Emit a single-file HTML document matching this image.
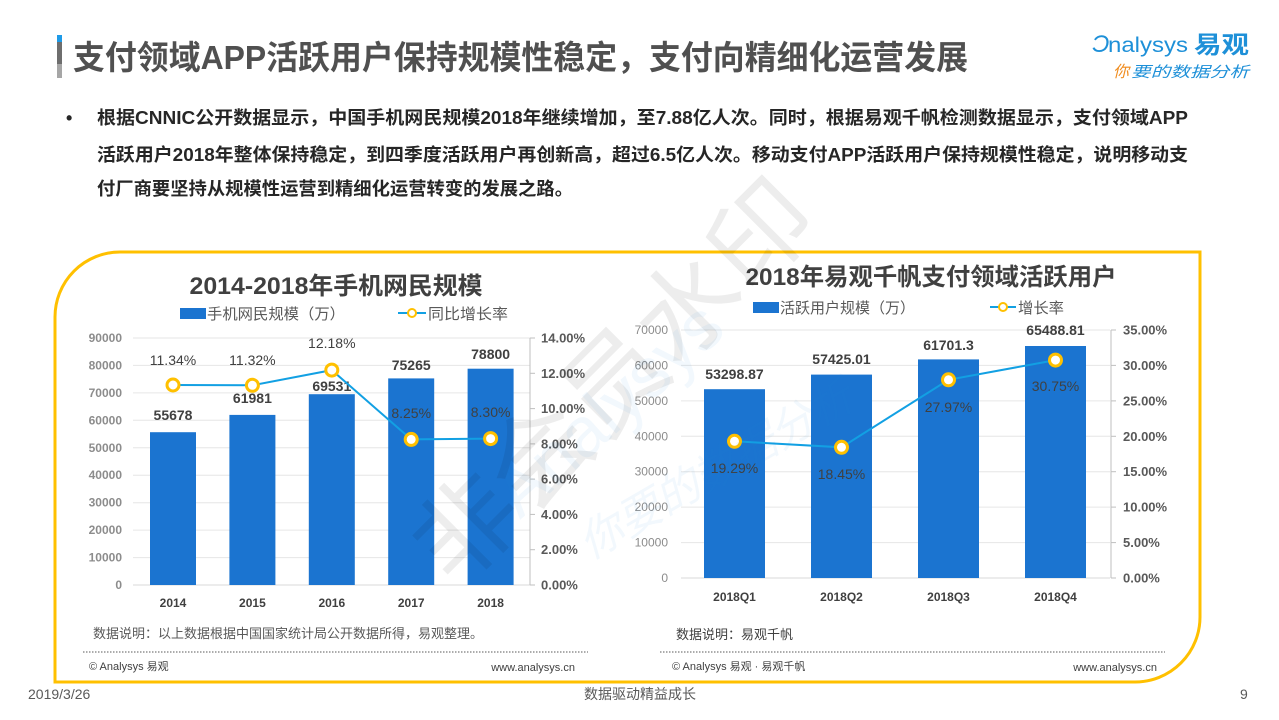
<!DOCTYPE html>
<html><head><meta charset="utf-8">
<style>
html,body{margin:0;padding:0;background:#fff;}
svg{display:block;}
text{font-family:"Liberation Sans","Noto Sans CJK SC",sans-serif;}
</style></head>
<body>
<svg width="1279" height="720" viewBox="0 0 1279 720" xmlns="http://www.w3.org/2000/svg">
<rect width="1279" height="720" fill="#fff"/>

<!-- Title -->
<rect x="57" y="35" width="5" height="7" fill="#1E9BE8"/>
<rect x="57" y="42" width="5" height="22" fill="#6e6e6e"/>
<rect x="57" y="64" width="5" height="14" fill="#a6a6a6"/>
<text x="73" y="69" font-size="33" font-weight="bold" fill="#505050" textLength="895" lengthAdjust="spacingAndGlyphs">支付领域APP活跃用户保持规模性稳定，支付向精细化运营发展</text>

<!-- Logo -->
<text x="1092" y="52" font-size="24" fill="#1E90D8" font-style="italic">&#x0186;</text>
<text x="1108" y="52" font-size="21" fill="#1E90D8" textLength="80" lengthAdjust="spacingAndGlyphs">nalysys</text>
<text x="1194" y="53" font-size="24" font-weight="bold" fill="#1E90D8" textLength="55" lengthAdjust="spacingAndGlyphs">易观</text>
<text x="1113" y="77" font-size="16" font-style="italic" fill="#F08C1E">你</text>
<text x="1131" y="77" font-size="15" font-style="italic" fill="#1E90D8" textLength="118" lengthAdjust="spacingAndGlyphs">要的数据分析</text>

<!-- Bullet text -->
<text x="66" y="124" font-size="18" font-weight="bold" fill="#262626">•</text>
<text x="97" y="124" font-size="18" font-weight="bold" fill="#262626" textLength="1091" lengthAdjust="spacingAndGlyphs">根据CNNIC公开数据显示，中国手机网民规模2018年继续增加，至7.88亿人次。同时，根据易观千帆检测数据显示，支付领域APP</text>
<text x="97" y="161" font-size="18" font-weight="bold" fill="#262626" textLength="1091" lengthAdjust="spacingAndGlyphs">活跃用户2018年整体保持稳定，到四季度活跃用户再创新高，超过6.5亿人次。移动支付APP活跃用户保持规模性稳定，说明移动支</text>
<text x="97" y="195" font-size="18" font-weight="bold" fill="#262626" textLength="476" lengthAdjust="spacingAndGlyphs">付厂商要坚持从规模性运营到精细化运营转变的发展之路。</text>

<!-- Yellow frame -->
<path d="M55,682 V317 A65,65 0 0 1 120,252 H1200 V617 A65,65 0 0 1 1135,682 Z" fill="none" stroke="#FFC000" stroke-width="3"/>

<!-- ================= LEFT CHART ================= -->
<text x="336" y="294" font-size="24" font-weight="bold" fill="#404040" text-anchor="middle" textLength="293" lengthAdjust="spacingAndGlyphs">2014-2018年手机网民规模</text>
<rect x="180" y="308" width="26" height="11" fill="#1B74D0"/>
<text x="207" y="319" font-size="15" fill="#595959" textLength="138" lengthAdjust="spacingAndGlyphs">手机网民规模（万）</text>
<line x1="398" y1="313" x2="426" y2="313" stroke="#12A0E3" stroke-width="2"/>
<circle cx="412" cy="313" r="4" fill="#fff" stroke="#FFC000" stroke-width="2"/>
<text x="428" y="319" font-size="15" fill="#595959" textLength="80" lengthAdjust="spacingAndGlyphs">同比增长率</text>

<g stroke="#E6E6E6" stroke-width="1">
<line x1="133" y1="338" x2="530" y2="338"/>
<line x1="133" y1="365.4" x2="530" y2="365.4"/>
<line x1="133" y1="392.9" x2="530" y2="392.9"/>
<line x1="133" y1="420.3" x2="530" y2="420.3"/>
<line x1="133" y1="447.8" x2="530" y2="447.8"/>
<line x1="133" y1="475.2" x2="530" y2="475.2"/>
<line x1="133" y1="502.7" x2="530" y2="502.7"/>
<line x1="133" y1="530.1" x2="530" y2="530.1"/>
<line x1="133" y1="557.6" x2="530" y2="557.6"/>
</g>
<line x1="133" y1="585" x2="530" y2="585" stroke="#D9D9D9" stroke-width="1"/>
<g font-size="12" font-weight="bold" fill="#8C8C8C" text-anchor="end">
<text x="122" y="342">90000</text>
<text x="122" y="369.4">80000</text>
<text x="122" y="396.9">70000</text>
<text x="122" y="424.3">60000</text>
<text x="122" y="451.8">50000</text>
<text x="122" y="479.2">40000</text>
<text x="122" y="506.7">30000</text>
<text x="122" y="534.1">20000</text>
<text x="122" y="561.6">10000</text>
<text x="122" y="589">0</text>
</g>
<g stroke="#BFBFBF" stroke-width="1">
<line x1="530" y1="338" x2="530" y2="585"/>
<line x1="530" y1="338" x2="535" y2="338"/>
<line x1="530" y1="373.3" x2="535" y2="373.3"/>
<line x1="530" y1="408.6" x2="535" y2="408.6"/>
<line x1="530" y1="443.9" x2="535" y2="443.9"/>
<line x1="530" y1="479.1" x2="535" y2="479.1"/>
<line x1="530" y1="514.4" x2="535" y2="514.4"/>
<line x1="530" y1="549.7" x2="535" y2="549.7"/>
<line x1="530" y1="585" x2="535" y2="585"/>
</g>
<g font-size="13" font-weight="bold" fill="#595959">
<text x="541" y="342.5">14.00%</text>
<text x="541" y="377.8">12.00%</text>
<text x="541" y="413.1">10.00%</text>
<text x="541" y="448.4">8.00%</text>
<text x="541" y="483.6">6.00%</text>
<text x="541" y="518.9">4.00%</text>
<text x="541" y="554.2">2.00%</text>
<text x="541" y="589.5">0.00%</text>
</g>
<g fill="#1B74D0">
<rect x="150" y="432.2" width="46" height="152.8"/>
<rect x="229.4" y="414.9" width="46" height="170.1"/>
<rect x="308.8" y="394.2" width="46" height="190.8"/>
<rect x="388.2" y="378.4" width="46" height="206.6"/>
<rect x="467.6" y="368.7" width="46" height="216.3"/>
</g>
<g font-size="14" font-weight="bold" fill="#404040" text-anchor="middle">
<text x="173" y="420">55678</text>
<text x="252.4" y="403">61981</text>
<text x="331.8" y="391">69531</text>
<text x="411.2" y="370">75265</text>
<text x="490.6" y="359">78800</text>
</g>
<polyline points="173,385 252.4,385.3 331.8,370.1 411.2,439.4 490.6,438.6" fill="none" stroke="#12A0E3" stroke-width="2"/>
<g fill="#fff" stroke="#FFC000" stroke-width="3">
<circle cx="173" cy="385" r="6"/>
<circle cx="252.4" cy="385.3" r="6"/>
<circle cx="331.8" cy="370.1" r="6"/>
<circle cx="411.2" cy="439.4" r="6"/>
<circle cx="490.6" cy="438.6" r="6"/>
</g>
<g font-size="14" fill="#404040" text-anchor="middle">
<text x="173" y="365">11.34%</text>
<text x="252.4" y="365">11.32%</text>
<text x="331.8" y="348">12.18%</text>
<text x="411.2" y="418">8.25%</text>
<text x="490.6" y="417">8.30%</text>
</g>
<g font-size="12" font-weight="bold" fill="#404040" text-anchor="middle">
<text x="173" y="607">2014</text>
<text x="252.4" y="607">2015</text>
<text x="331.8" y="607">2016</text>
<text x="411.2" y="607">2017</text>
<text x="490.6" y="607">2018</text>
</g>
<text x="93" y="638" font-size="13" fill="#595959" textLength="390" lengthAdjust="spacingAndGlyphs">数据说明：以上数据根据中国国家统计局公开数据所得，易观整理。</text>
<line x1="83" y1="652" x2="588" y2="652" stroke="#595959" stroke-width="1" stroke-dasharray="1.5,1.5"/>
<text x="89" y="670" font-size="11" fill="#404040">© Analysys 易观</text>
<text x="575" y="671" font-size="11" fill="#404040" text-anchor="end">www.analysys.cn</text>

<!-- ================= RIGHT CHART ================= -->
<text x="931" y="285" font-size="24" font-weight="bold" fill="#404040" text-anchor="middle" textLength="371" lengthAdjust="spacingAndGlyphs">2018年易观千帆支付领域活跃用户</text>
<rect x="753" y="302" width="26" height="11" fill="#1B74D0"/>
<text x="780" y="313" font-size="15" fill="#595959" textLength="135" lengthAdjust="spacingAndGlyphs">活跃用户规模（万）</text>
<line x1="990" y1="307" x2="1016" y2="307" stroke="#12A0E3" stroke-width="2"/>
<circle cx="1003" cy="307" r="4" fill="#fff" stroke="#FFC000" stroke-width="2"/>
<text x="1018" y="313" font-size="15" fill="#595959" textLength="46" lengthAdjust="spacingAndGlyphs">增长率</text>

<g stroke="#E6E6E6" stroke-width="1">
<line x1="681" y1="330" x2="1110" y2="330"/>
<line x1="681" y1="365.4" x2="1110" y2="365.4"/>
<line x1="681" y1="400.9" x2="1110" y2="400.9"/>
<line x1="681" y1="436.3" x2="1110" y2="436.3"/>
<line x1="681" y1="471.7" x2="1110" y2="471.7"/>
<line x1="681" y1="507.1" x2="1110" y2="507.1"/>
<line x1="681" y1="542.6" x2="1110" y2="542.6"/>
</g>
<line x1="681" y1="578" x2="1110" y2="578" stroke="#D9D9D9" stroke-width="1"/>
<g font-size="12" fill="#8C8C8C" text-anchor="end">
<text x="668" y="334">70000</text>
<text x="668" y="369.4">60000</text>
<text x="668" y="404.9">50000</text>
<text x="668" y="440.3">40000</text>
<text x="668" y="475.7">30000</text>
<text x="668" y="511.1">20000</text>
<text x="668" y="546.6">10000</text>
<text x="668" y="582">0</text>
</g>
<g stroke="#BFBFBF" stroke-width="1">
<line x1="1111" y1="330" x2="1111" y2="578"/>
<line x1="1111" y1="330" x2="1116" y2="330"/>
<line x1="1111" y1="365.4" x2="1116" y2="365.4"/>
<line x1="1111" y1="400.9" x2="1116" y2="400.9"/>
<line x1="1111" y1="436.3" x2="1116" y2="436.3"/>
<line x1="1111" y1="471.7" x2="1116" y2="471.7"/>
<line x1="1111" y1="507.1" x2="1116" y2="507.1"/>
<line x1="1111" y1="542.6" x2="1116" y2="542.6"/>
<line x1="1111" y1="578" x2="1116" y2="578"/>
</g>
<g font-size="13" font-weight="bold" fill="#595959">
<text x="1123" y="334.5">35.00%</text>
<text x="1123" y="369.9">30.00%</text>
<text x="1123" y="405.4">25.00%</text>
<text x="1123" y="440.8">20.00%</text>
<text x="1123" y="476.2">15.00%</text>
<text x="1123" y="511.6">10.00%</text>
<text x="1123" y="547.1">5.00%</text>
<text x="1123" y="582.5">0.00%</text>
</g>
<g fill="#1B74D0">
<rect x="704" y="389.2" width="61" height="188.8"/>
<rect x="811" y="374.6" width="61" height="203.4"/>
<rect x="918" y="359.4" width="61" height="218.6"/>
<rect x="1025" y="346" width="61" height="232"/>
</g>
<g font-size="14" font-weight="bold" fill="#404040" text-anchor="middle">
<text x="734.5" y="379">53298.87</text>
<text x="841.5" y="364">57425.01</text>
<text x="948.5" y="350">61701.3</text>
<text x="1055.5" y="335">65488.81</text>
</g>
<polyline points="734.5,441.3 841.5,447.3 948.5,379.8 1055.5,360.1" fill="none" stroke="#12A0E3" stroke-width="2"/>
<g fill="#fff" stroke="#FFC000" stroke-width="3">
<circle cx="734.5" cy="441.3" r="6"/>
<circle cx="841.5" cy="447.3" r="6"/>
<circle cx="948.5" cy="379.8" r="6"/>
<circle cx="1055.5" cy="360.1" r="6"/>
</g>
<g font-size="14" fill="#404040" text-anchor="middle">
<text x="734.5" y="473">19.29%</text>
<text x="841.5" y="479">18.45%</text>
<text x="948.5" y="412">27.97%</text>
<text x="1055.5" y="391">30.75%</text>
</g>
<g font-size="12" font-weight="bold" fill="#404040" text-anchor="middle">
<text x="734.5" y="601">2018Q1</text>
<text x="841.5" y="601">2018Q2</text>
<text x="948.5" y="601">2018Q3</text>
<text x="1055.5" y="601">2018Q4</text>
</g>
<text x="676" y="639" font-size="13" fill="#404040">数据说明：易观千帆</text>
<line x1="660" y1="652" x2="1165" y2="652" stroke="#595959" stroke-width="1" stroke-dasharray="1.5,1.5"/>
<text x="672" y="670" font-size="11" fill="#404040">© Analysys 易观 · 易观千帆</text>
<text x="1157" y="671" font-size="11" fill="#404040" text-anchor="end">www.analysys.cn</text>

<!-- Watermark -->
<text x="0" y="0" font-size="100" fill="#000" fill-opacity="0.07" transform="translate(455,590) rotate(-45)" textLength="520" lengthAdjust="spacingAndGlyphs">非会员水印</text>
<text x="0" y="0" font-size="70" fill="#1E90D8" fill-opacity="0.06" transform="translate(520,520) rotate(-42)">Analysys</text>
<text x="0" y="0" font-size="44" font-style="italic" fill="#1E90D8" fill-opacity="0.06" transform="translate(590,560) rotate(-30)">你要的数据分析</text>

<!-- Footer -->
<text x="28" y="699" font-size="14" fill="#595959">2019/3/26</text>
<text x="640" y="699" font-size="14" fill="#595959" text-anchor="middle">数据驱动精益成长</text>
<text x="1240" y="699" font-size="14" fill="#595959">9</text>
</svg>
</body></html>
